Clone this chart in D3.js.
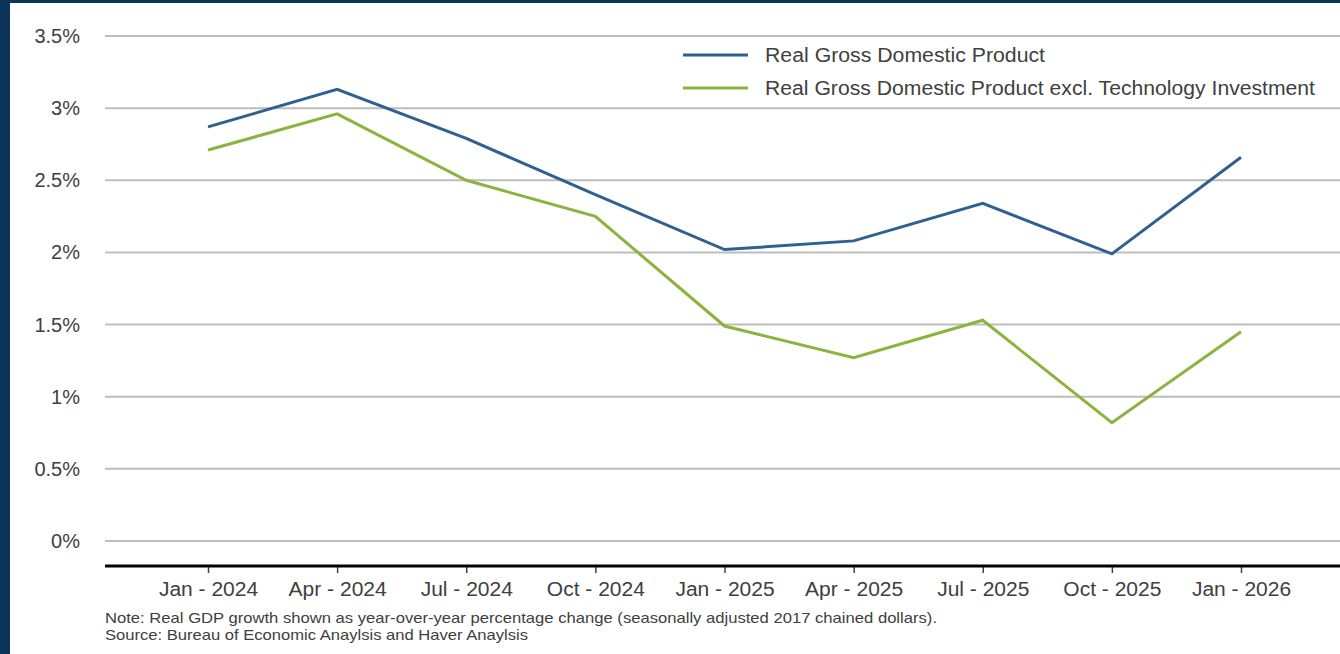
<!DOCTYPE html>
<html><head><meta charset="utf-8">
<script src="https://cdn.jsdelivr.net/npm/d3@7"></script>
<style>
html,body{margin:0;padding:0;background:#fff;}
svg{display:block;font-family:"Liberation Sans",Arial,sans-serif;}
</style></head>
<body>
<svg id="c" width="1340" height="654"></svg>
<script>
const categories = ["Jan - 2024","Apr - 2024","Jul - 2024","Oct - 2024","Jan - 2025","Apr - 2025","Jul - 2025","Oct - 2025","Jan - 2026"];
const gdp = [2.87, 3.13, 2.79, 2.40, 2.02, 2.08, 2.34, 1.99, 2.66];
const gdpExTech = [2.71, 2.96, 2.50, 2.25, 1.49, 1.27, 1.53, 0.82, 1.45];
const yTicks = [0, 0.5, 1, 1.5, 2, 2.5, 3, 3.5];
const yTickLabels = ["0%","0.5%","1%","1.5%","2%","2.5%","3%","3.5%"];
const seriesNames = ["Real Gross Domestic Product","Real Gross Domestic Product excl. Technology Investment"];
const noteLines = ["Note: Real GDP growth shown as year-over-year percentage change (seasonally adjusted 2017 chained dollars).","Source: Bureau of Economic Anaylsis and Haver Anaylsis"];

const colors = ["#2f6090","#8cb33e"];
const svg = d3.select("#c");
const W = 1340, H = 654;

// frame
svg.append("rect").attr("x",0).attr("y",0).attr("width",W).attr("height",H).attr("fill","#fff");
svg.append("rect").attr("x",0).attr("y",0).attr("width",10).attr("height",H).attr("fill","#0a3558");
svg.append("rect").attr("x",0).attr("y",0).attr("width",W).attr("height",3).attr("fill","#0a3558");

const x0 = 105, x1 = 1340;
const x = d3.scalePoint().domain(categories).range([208, 1241]);
const y = d3.scaleLinear().domain([0, 3.5]).range([541, 36]);

// gridlines
svg.append("g").selectAll("line").data(yTicks).join("line")
  .attr("x1",x0).attr("x2",x1)
  .attr("y1",d=>y(d)).attr("y2",d=>y(d))
  .attr("stroke","#bdbdbd").attr("stroke-width",2);

// y labels
svg.append("g").selectAll("text").data(yTicks).join("text")
  .attr("x",80).attr("y",d=>y(d)).attr("dy","0.35em")
  .attr("text-anchor","end").attr("font-size",20).attr("fill","#404040")
  .text((d,i)=>yTickLabels[i]);

// x axis
const xAxis = d3.axisBottom(x).tickSize(7).tickPadding(9).tickSizeOuter(0);
const gx = svg.append("g").attr("transform","translate(0,566)").call(xAxis);
gx.select(".domain").remove();
gx.selectAll(".tick line").attr("stroke","#404040").attr("stroke-width",1.5);
gx.selectAll(".tick text").attr("font-size",20).attr("fill","#404040")
  .attr("font-family","Liberation Sans, Arial, sans-serif")
  .each(function(){
    const w = this.getComputedTextLength();
    d3.select(this).attr("textLength", w*1.05).attr("lengthAdjust","spacingAndGlyphs");
  });
svg.append("line").attr("x1",x0).attr("x2",x1).attr("y1",566).attr("y2",566)
  .attr("stroke","#000").attr("stroke-width",3);

// lines
const line = d3.line().x((d,i)=>x(categories[i])).y(d=>y(d));
[gdp, gdpExTech].forEach((s,k)=>{
  svg.append("path").datum(s).attr("d",line)
    .attr("fill","none").attr("stroke",colors[k]).attr("stroke-width",3)
    .attr("stroke-linejoin","miter");
});

// legend
const lg = svg.append("g");
const legendLen = [280, 550];
seriesNames.forEach((n,k)=>{
  const yy = 55 + k*33;
  lg.append("line").attr("x1",683).attr("x2",748).attr("y1",yy).attr("y2",yy)
    .attr("stroke",colors[k]).attr("stroke-width",3);
  lg.append("text").attr("x",765).attr("y",yy).attr("dy","0.35em")
    .attr("font-size",20).attr("fill","#404040")
    .attr("textLength",legendLen[k]).attr("lengthAdjust","spacingAndGlyphs")
    .text(n);
});

// notes
const noteLen = [832, 423];
noteLines.forEach((t,i)=>{
  svg.append("text").attr("x",105).attr("y",623+i*17)
    .attr("font-size",14.5).attr("fill","#404040")
    .attr("textLength",noteLen[i]).attr("lengthAdjust","spacingAndGlyphs")
    .text(t);
});
</script>
</body></html>
